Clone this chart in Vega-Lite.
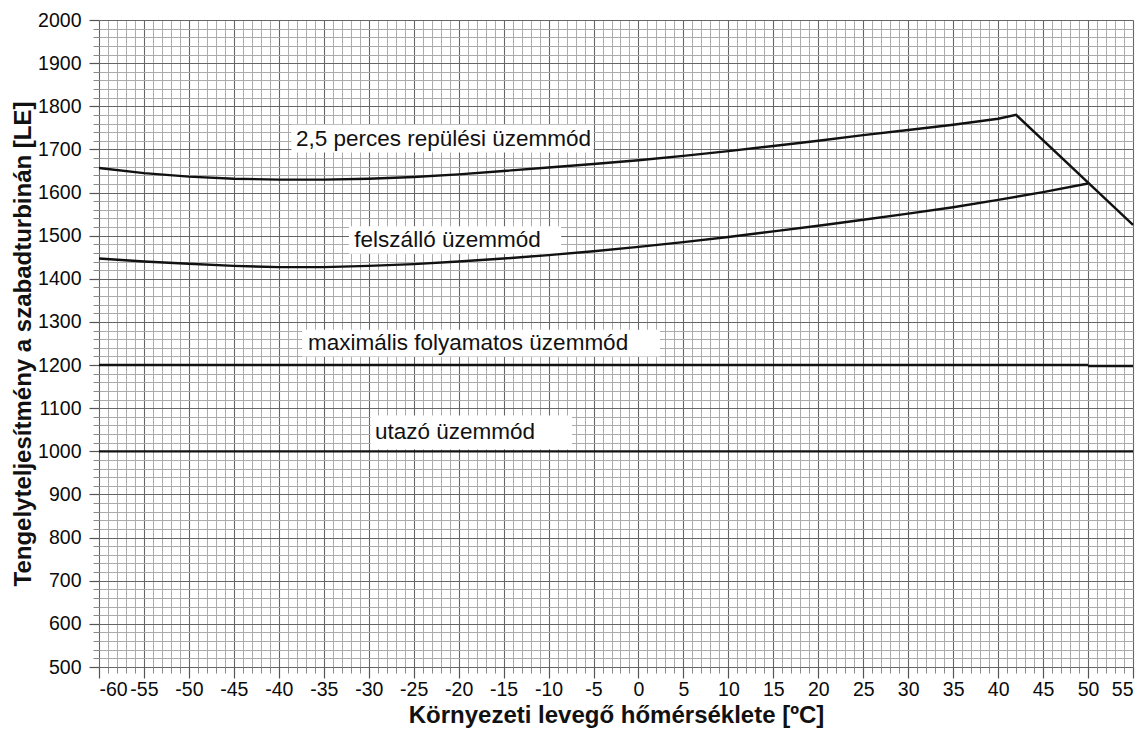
{
  "$schema": "https://vega.github.io/schema/vega-lite/v6.json",
  "autosize": {"type": "none"},
  "width": 1034,
  "height": 647,
  "padding": {"left": 99, "top": 20, "right": 8, "bottom": 66},
  "background": "white",
  "config": {
    "view": {"stroke": null},
    "font": "Liberation Sans",
    "axis": {"labelFont": "Liberation Sans", "titleFont": "Liberation Sans"}
  },
  "datasets": {
    "curves": [
      {"s": "a", "t": -60, "p": 1657}, {"s": "a", "t": -55, "p": 1645}, {"s": "a", "t": -50, "p": 1637},
      {"s": "a", "t": -45, "p": 1632}, {"s": "a", "t": -40, "p": 1630}, {"s": "a", "t": -35, "p": 1630},
      {"s": "a", "t": -30, "p": 1632}, {"s": "a", "t": -25, "p": 1636}, {"s": "a", "t": -20, "p": 1642},
      {"s": "a", "t": -15, "p": 1650}, {"s": "a", "t": -10, "p": 1658}, {"s": "a", "t": -5, "p": 1666},
      {"s": "a", "t": 0, "p": 1675}, {"s": "a", "t": 5, "p": 1685}, {"s": "a", "t": 10, "p": 1696},
      {"s": "a", "t": 15, "p": 1708}, {"s": "a", "t": 20, "p": 1720}, {"s": "a", "t": 25, "p": 1733},
      {"s": "a", "t": 30, "p": 1745}, {"s": "a", "t": 35, "p": 1757}, {"s": "a", "t": 40, "p": 1771},
      {"s": "a", "t": 42, "p": 1780}, {"s": "a", "t": 55, "p": 1525},
      {"s": "b", "t": -60, "p": 1447}, {"s": "b", "t": -55, "p": 1440}, {"s": "b", "t": -50, "p": 1435},
      {"s": "b", "t": -45, "p": 1430}, {"s": "b", "t": -40, "p": 1427}, {"s": "b", "t": -35, "p": 1427},
      {"s": "b", "t": -30, "p": 1430}, {"s": "b", "t": -25, "p": 1434}, {"s": "b", "t": -20, "p": 1440},
      {"s": "b", "t": -15, "p": 1447}, {"s": "b", "t": -10, "p": 1455}, {"s": "b", "t": -5, "p": 1464},
      {"s": "b", "t": 0, "p": 1474}, {"s": "b", "t": 5, "p": 1485}, {"s": "b", "t": 10, "p": 1497},
      {"s": "b", "t": 15, "p": 1510}, {"s": "b", "t": 20, "p": 1523}, {"s": "b", "t": 25, "p": 1537},
      {"s": "b", "t": 30, "p": 1551}, {"s": "b", "t": 35, "p": 1566}, {"s": "b", "t": 40, "p": 1583},
      {"s": "b", "t": 45, "p": 1601}, {"s": "b", "t": 50, "p": 1621},
      {"s": "c", "t": -60, "p": 1200}, {"s": "c", "t": 50, "p": 1200},
      {"s": "d", "t": 50, "p": 1198}, {"s": "d", "t": 55, "p": 1198},
      {"s": "e", "t": -60, "p": 1000}, {"s": "e", "t": 55, "p": 1000}
    ],
    "labels": [
      {"txt": "2,5 perces repülési üzemmód", "t": -38.1, "p": 1725, "t1": -38.6, "t2": -5.0, "p1": 1693, "p2": 1757},
      {"txt": "felszálló üzemmód", "t": -31.6, "p": 1490, "t1": -32.2, "t2": -8.6, "p1": 1458, "p2": 1522},
      {"txt": "maximális folyamatos üzemmód", "t": -36.75, "p": 1252, "t1": -37.4, "t2": 2.4, "p1": 1220, "p2": 1282},
      {"txt": "utazó üzemmód", "t": -29.3, "p": 1045, "t1": -29.8, "t2": -7.4, "p1": 1005, "p2": 1083}
    ]
  },
  "layer": [
    {
      "data": {"name": "labels"},
      "mark": {"type": "rect", "color": "white"},
      "encoding": {
        "x": {"field": "t1", "type": "quantitative",
          "scale": {"domain": [-60, 55], "nice": false, "zero": false},
          "axis": {"orient": "bottom", "title": null, "labels": false, "domain": false,
            "values": [-60,-59,-58,-57,-56,-55,-54,-53,-52,-51,-50,-49,-48,-47,-46,-45,-44,-43,-42,-41,-40,-39,-38,-37,-36,-35,-34,-33,-32,-31,-30,-29,-28,-27,-26,-25,-24,-23,-22,-21,-20,-19,-18,-17,-16,-15,-14,-13,-12,-11,-10,-9,-8,-7,-6,-5,-4,-3,-2,-1,0,1,2,3,4,5,6,7,8,9,10,11,12,13,14,15,16,17,18,19,20,21,22,23,24,25,26,27,28,29,30,31,32,33,34,35,36,37,38,39,40,41,42,43,44,45,46,47,48,49,50,51,52,53,54,55],
            "grid": true, "gridColor": "#ababab", "gridWidth": 1, "tickColor": "#888", "tickSize": 6, "tickWidth": 1}},
        "x2": {"field": "t2"},
        "y": {"field": "p1", "type": "quantitative",
          "scale": {"domain": [500, 2000], "nice": false, "zero": false},
          "axis": {"orient": "left", "title": null, "labels": false, "domain": false,
            "values": [500,520,540,560,580,600,620,640,660,680,700,720,740,760,780,800,820,840,860,880,900,920,940,960,980,1000,1020,1040,1060,1080,1100,1120,1140,1160,1180,1200,1220,1240,1260,1280,1300,1320,1340,1360,1380,1400,1420,1440,1460,1480,1500,1520,1540,1560,1580,1600,1620,1640,1660,1680,1700,1720,1740,1760,1780,1800,1820,1840,1860,1880,1900,1920,1940,1960,1980,2000],
            "grid": true, "gridColor": "#ababab", "gridWidth": 1, "tickColor": "#888", "tickSize": 6, "tickWidth": 1}},
        "y2": {"field": "p2"}
      }
    },
    {
      "data": {"name": "curves"},
      "mark": {"type": "line", "color": "#111", "strokeWidth": 2.4},
      "encoding": {
        "x": {"field": "t", "type": "quantitative",
          "axis": {"orient": "bottom", "title": "Környezeti levegő hőmérséklete [ºC]",
            "titleFontSize": 24, "titleFontWeight": "bold", "titleColor": "#111", "titlePadding": 5,
            "values": [-60,-55,-50,-45,-40,-35,-30,-25,-20,-15,-10,-5,0,5,10,15,20,25,30,35,40,45,50,55],
            "labelExpr": "'' + datum.value", "labelFontSize": 19.5, "labelColor": "#0a0a0a", "labelPadding": 2,
            "domain": false, "grid": true, "gridColor": "#666", "gridWidth": 1.1,
            "tickColor": "#555", "tickSize": 11, "tickWidth": 1.2}},
        "y": {"field": "p", "type": "quantitative",
          "axis": {"orient": "left", "title": "Tengelyteljesítmény a szabadturbinán [LE]",
            "titleFontSize": 24, "titleFontWeight": "bold", "titleColor": "#111", "titlePadding": 2,
            "values": [500,600,700,800,900,1000,1100,1200,1300,1400,1500,1600,1700,1800,1900,2000],
            "labelExpr": "'' + datum.value", "labelFontSize": 19.5, "labelColor": "#0a0a0a", "labelPadding": 8,
            "domain": false, "grid": true, "gridColor": "#666", "gridWidth": 1.1,
            "tickColor": "#555", "tickSize": 10, "tickWidth": 1.2}},
        "detail": {"field": "s", "type": "nominal"}
      }
    },
    {
      "data": {"name": "labels"},
      "mark": {"type": "text", "align": "left", "baseline": "middle", "fontSize": 22.5, "font": "Liberation Sans", "color": "#111"},
      "encoding": {
        "x": {"field": "t", "type": "quantitative", "axis": null},
        "y": {"field": "p", "type": "quantitative", "axis": null},
        "text": {"field": "txt"}
      }
    }
  ],
  "resolve": {"axis": {"x": "independent", "y": "independent"}}
}
